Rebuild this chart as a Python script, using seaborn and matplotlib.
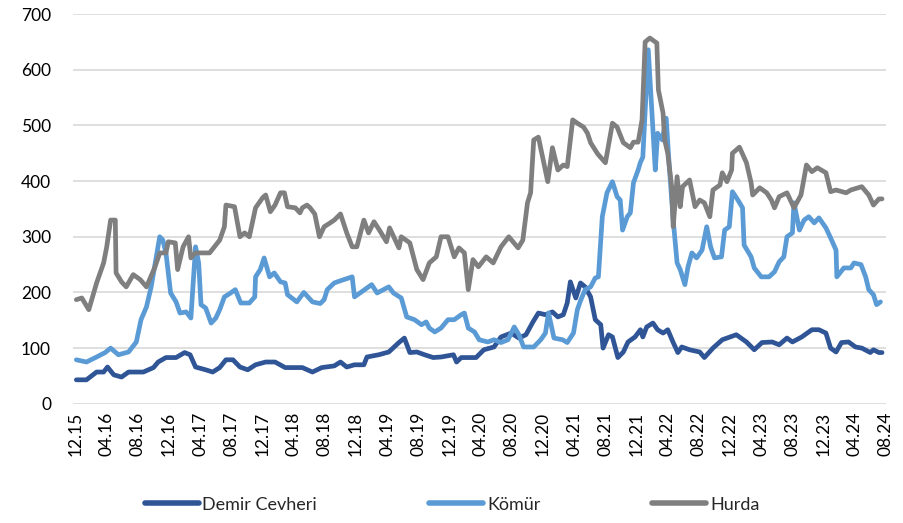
import pandas as pd
import matplotlib.pyplot as plt
import seaborn as sns

# x = months elapsed since 12.2015, y = index value
demir_month = [0.1, 1.4, 2.7, 3.6, 4.1, 4.9, 5.9, 6.8, 8.7, 10.0,
               10.6, 11.6, 12.9, 14.0, 14.7, 15.4, 16.7, 17.6, 18.5, 19.3,
               20.2, 21.1, 22.1, 23.1, 24.4, 25.6, 26.9, 28.2, 29.1, 30.4,
               31.6, 33.2, 34.0, 34.8, 35.8, 37.0, 37.4, 38.9, 40.2, 41.5,
               42.2, 42.9, 43.8, 44.8, 45.9, 46.9, 48.5, 48.9, 49.5, 51.4,
               52.4, 53.7, 54.6, 55.9, 56.9, 57.8, 58.7, 59.4, 60.3, 61.2,
               61.9, 62.6, 63.1, 63.5, 64.2, 64.8, 65.4, 66.1, 66.7, 67.4,
               67.7, 68.4, 68.9, 69.6, 70.3, 70.9, 71.8, 72.5, 72.8, 73.3,
               74.1, 74.7, 75.4, 76.0, 76.7, 77.3, 77.8, 78.8, 80.1, 80.7,
               81.8, 83.0, 84.8, 86.1, 87.1, 88.1, 89.4, 90.3, 91.3, 92.0,
               93.2, 94.5, 95.4, 96.3, 96.9, 97.6, 98.3, 99.2, 100.1, 100.9,
               102.0, 102.4, 103.1, 103.5]
demir_value = [43, 43, 57, 57, 66, 52, 48, 57, 57, 65,
               75, 83, 83, 92, 88, 66, 61, 57, 65, 79,
               79, 66, 61, 70, 75, 75, 65, 65, 65, 57,
               65, 68, 75, 66, 70, 70, 84, 88, 93, 110,
               118, 92, 93, 88, 83, 84, 88, 75, 83, 83,
               97, 102, 120, 127, 118, 124, 147, 163, 160, 165,
               156, 160, 181, 219, 190, 217, 210, 192, 151, 142,
               100, 124, 120, 83, 93, 111, 120, 133, 120, 138,
               145, 133, 127, 133, 110, 92, 102, 97, 93, 83,
               100, 115, 124, 111, 97, 110, 111, 106, 118, 111,
               120, 133, 133, 127, 100, 93, 110, 111, 102, 100,
               92, 97, 92, 92]

komur_month = [0.1, 1.4, 2.7, 3.8, 4.5, 5.5, 6.8, 7.8, 8.4, 9.1,
               9.7, 10.3, 10.8, 11.2, 11.6, 12.2, 12.9, 13.4, 14.2, 14.8,
               15.4, 15.8, 16.1, 16.7, 17.4, 18.0, 18.5, 19.1, 19.9, 20.5,
               21.2, 22.3, 23.0, 23.1, 23.7, 24.2, 24.9, 25.5, 26.3, 26.9,
               27.2, 28.4, 29.3, 30.4, 31.4, 31.9, 32.3, 33.2, 34.0, 35.5,
               35.8, 37.1, 38.0, 38.7, 40.2, 40.8, 41.8, 42.5, 43.5, 44.4,
               45.0, 45.4, 46.1, 46.9, 47.8, 48.6, 49.5, 49.9, 50.4, 51.2,
               51.8, 52.9, 53.7, 54.6, 55.5, 56.3, 56.9, 57.5, 58.8, 59.7,
               60.3, 60.7, 61.4, 62.5, 63.1, 63.9, 64.4, 64.8, 65.4, 66.1,
               66.7, 67.1, 67.6, 68.2, 68.9, 69.5, 69.9, 70.2, 70.8, 71.2,
               71.6, 72.2, 72.5, 72.8, 73.5, 74.0, 74.4, 74.7, 75.3, 75.8,
               76.2, 76.7, 77.2, 77.6, 78.2, 78.6, 79.1, 79.7, 80.4, 81.0,
               81.5, 82.0, 82.9, 83.3, 83.9, 84.3, 85.0, 85.6, 85.8, 86.7,
               87.1, 88.0, 89.0, 89.7, 90.3, 90.9, 91.3, 92.0, 92.2, 92.9,
               93.5, 94.1, 94.8, 95.4, 96.3, 96.9, 97.6, 97.7, 98.6, 99.5,
               99.9, 100.8, 101.4, 101.8, 102.4, 102.8, 103.3]
komur_value = [79, 75, 84, 92, 100, 88, 93, 111, 151, 174,
               210, 259, 300, 294, 271, 199, 183, 163, 165, 154,
               282, 253, 178, 172, 145, 154, 169, 192, 199, 205,
               181, 181, 192, 228, 241, 262, 228, 235, 219, 217,
               196, 183, 200, 183, 180, 187, 205, 217, 221, 228,
               192, 205, 214, 199, 210, 199, 190, 156, 151, 142,
               147, 136, 129, 136, 151, 151, 160, 163, 136, 129,
               115, 111, 115, 110, 115, 138, 124, 102, 102, 115,
               127, 163, 118, 115, 110, 127, 169, 185, 205, 210,
               226, 228, 336, 379, 399, 372, 366, 312, 336, 343,
               397, 420, 434, 443, 636, 515, 420, 486, 474, 513,
               426, 330, 253, 241, 214, 246, 271, 262, 276, 318,
               282, 262, 264, 312, 318, 381, 366, 352, 285, 264,
               244, 228, 228, 237, 255, 264, 300, 307, 361, 312,
               330, 336, 325, 334, 316, 298, 276, 228, 244, 244,
               253, 250, 228, 205, 196, 178, 183]

hurda_month = [0.1, 0.8, 1.7, 2.7, 3.6, 4.0, 4.5, 5.1, 5.2, 5.9,
               6.5, 7.4, 8.3, 9.1, 10.2, 10.8, 11.6, 11.9, 12.8, 13.1,
               13.8, 14.5, 14.8, 15.4, 17.2, 18.5, 19.1, 19.3, 20.4, 21.1,
               21.7, 22.3, 23.1, 24.0, 24.4, 25.0, 25.6, 26.3, 26.8, 27.2,
               28.2, 28.8, 29.1, 29.7, 30.1, 30.7, 31.3, 31.9, 32.9, 33.2,
               34.0, 34.8, 35.5, 36.1, 37.0, 37.6, 38.3, 39.0, 39.9, 40.3,
               41.5, 41.8, 42.9, 43.8, 44.6, 45.4, 46.3, 46.9, 47.8, 48.6,
               49.2, 49.9, 50.4, 51.0, 51.7, 52.7, 53.6, 54.6, 55.6, 56.8,
               57.4, 58.0, 58.4, 58.8, 59.4, 60.6, 61.2, 61.9, 62.6, 63.1,
               63.8, 64.4, 65.2, 65.7, 66.1, 67.0, 68.0, 68.9, 69.5, 70.3,
               71.2, 71.6, 72.2, 72.7, 73.1, 73.7, 74.6, 74.8, 75.4, 75.6,
               76.0, 76.5, 76.7, 77.2, 77.6, 77.9, 78.8, 79.5, 80.1, 80.7,
               81.4, 81.8, 82.7, 83.0, 83.6, 84.2, 84.3, 85.2, 86.1, 86.7,
               86.9, 87.8, 88.7, 89.3, 89.7, 90.3, 91.3, 92.2, 93.1, 93.8,
               94.5, 95.2, 96.3, 96.9, 97.6, 98.9, 99.5, 100.9, 101.8, 102.4,
               103.1, 103.5]
hurda_value = [187, 190, 169, 217, 253, 282, 330, 330, 235, 219,
               210, 232, 223, 210, 246, 271, 271, 291, 289, 241,
               282, 300, 262, 271, 271, 294, 318, 357, 354, 300,
               307, 300, 352, 370, 375, 345, 357, 379, 379, 354,
               352, 343, 352, 357, 352, 341, 300, 318, 327, 330,
               341, 307, 282, 282, 330, 307, 327, 312, 291, 316,
               280, 300, 289, 241, 223, 253, 264, 300, 300, 264,
               280, 271, 205, 259, 246, 264, 253, 282, 300, 280,
               294, 361, 379, 474, 479, 399, 460, 420, 429, 426,
               510, 504, 497, 486, 469, 449, 433, 504, 497, 469,
               460, 470, 470, 510, 650, 657, 648, 564, 522, 474,
               450, 390, 318, 408, 354, 390, 402, 354, 366, 361,
               336, 384, 393, 415, 399, 420, 450, 461, 433, 397,
               375, 388, 379, 366, 352, 372, 379, 352, 375, 429,
               417, 424, 415, 381, 384, 379, 384, 390, 375, 357,
               368, 368]

series_names = ["Demir Cevheri", "Kömür", "Hurda"]
series_colors = ["#2f5597", "#5b9bd5", "#7f7f7f"]
tick_labels = ["12.15", "04.16", "08.16", "12.16", "04.17", "08.17", "12.17",
               "04.18", "08.18", "12.18", "04.19", "08.19", "12.19", "04.20",
               "08.20", "12.20", "04.21", "08.21", "12.21", "04.22", "08.22",
               "12.22", "04.23", "08.23", "12.23", "04.24", "08.24"]

frames = []
for name, m, v in zip(series_names,
                      [demir_month, komur_month, hurda_month],
                      [demir_value, komur_value, hurda_value]):
    frames.append(pd.DataFrame({"month": m, "value": v, "series": name}))
df = pd.concat(frames, ignore_index=True)

sns.set_style("white")
plt.rcParams["font.family"] = ["Lato", "DejaVu Sans"]

fig = plt.figure(figsize=(9.04, 5.23), dpi=100)
ax = fig.add_axes([0.081, 0.228, 0.899, 0.745])

sns.lineplot(data=df, x="month", y="value", hue="series",
             hue_order=series_names, palette=series_colors,
             linewidth=3.4, estimator=None, sort=False, ax=ax,
             solid_joinstyle="round", solid_capstyle="round")

ax.set_ylim(0, 700)
ax.set_yticks(range(0, 701, 100))
ax.set_xlim(-0.3, 104)
ax.set_xticks([4 * i for i in range(len(tick_labels))])
ax.set_xticklabels(tick_labels, rotation=90)
ax.grid(axis="y", color="#d9d9d9", linewidth=1.2)
ax.set_axisbelow(True)
sns.despine(ax=ax, left=True, bottom=True)
ax.tick_params(axis="both", length=0, labelsize=12.5, colors="#000000")
ax.tick_params(axis="y", pad=16)
ax.tick_params(axis="x", pad=6)
ax.set_xlabel("")
ax.set_ylabel("")

handles, labels = ax.get_legend_handles_labels()
ax.legend_.remove()
leg = fig.legend(handles, labels, loc="center", bbox_to_anchor=(0.5, 0.035),
                 ncol=3, frameon=False, fontsize=13, handlelength=3.0,
                 handletextpad=0.2, columnspacing=6.2)
for line in leg.get_lines():
    line.set_linewidth(4)

fig.savefig("out.png", dpi=100)
